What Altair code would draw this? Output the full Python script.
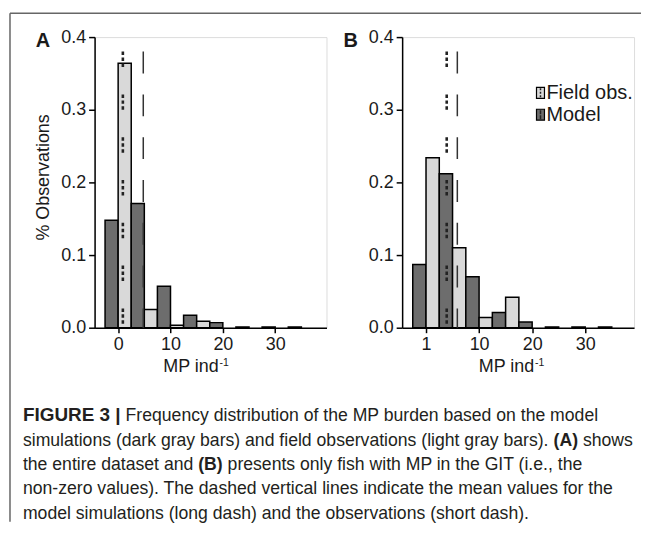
import altair as alt
import pandas as pd

# ---------------- data ----------------
bin_centers = [0, 5, 10, 15, 20, 25, 30, 35]
bin_width = 5
A_model = [0.148, 0.171, 0.057, 0.017, 0.007, 0.001, 0.001, 0.001]
A_field = [0.364, 0.025, 0.0035, 0.009, 0.0, 0.0, 0.0, 0.0]
B_model = [0.087, 0.212, 0.070, 0.021, 0.008, 0.001, 0.001, 0.001]
B_field = [0.234, 0.110, 0.014, 0.042, 0.0, 0.0, 0.0, 0.0]
A_means = {"Field obs.": 0.9, "Model": 4.8}
B_means = {"Field obs.": 3.9, "Model": 5.9}
y_ticks = [0, 0.1, 0.2, 0.3, 0.4]
x_ticks = [0, 10, 20, 30]
B_first_label = "1"
series_names = ["Model", "Field obs."]
# (text, bold, font size)
caption_lines = [
    [("FIGURE 3 |", True, 19), ("Frequency distribution of the MP burden based on the model", False, 17.7)],
    [("simulations (dark gray bars) and field observations (light gray bars).", False, 17.7), ("(A)", True, 17.7), ("shows", False, 17.7)],
    [("the entire dataset and", False, 17.7), ("(B)", True, 17.7), ("presents only fish with MP in the GIT (i.e., the", False, 17.7)],
    [("non-zero values). The dashed vertical lines indicate the mean values for the", False, 17.7)],
    [("model simulations (long dash) and the observations (short dash).", False, 17.7)],
]

DARK = "#6d6d6d"
LIGHT = "#d9d9d9"
FONT = "Liberation Sans"
TXT = "#1a1a1a"

REG = {c: w for c, w in zip("abcdefghijklmnopqrstuvwxyz",
       [556,556,500,556,556,278,556,556,222,222,500,222,833,556,556,556,556,333,500,278,556,500,722,500,500,500])}
REG.update({c: w for c, w in zip("ABCDEFGHIJKLMNOPQRSTUVWXYZ",
       [667,667,722,722,667,611,778,722,278,500,667,556,833,722,778,667,778,722,667,611,722,667,944,667,667,611])})
REG.update({" ": 278, "(": 333, ")": 333, ".": 278, ",": 278, "-": 333, "|": 260})
REG.update({d: 556 for d in "0123456789"})
BOLD = {"A": 722, "B": 722, "F": 611, "G": 778, "I": 278, "U": 722, "R": 722, "E": 667,
        "(": 333, ")": 333, " ": 278, "|": 280}
BOLD.update({d: 556 for d in "0123456789"})


def tw(s, size, bold=False):
    tab = BOLD if bold else REG
    return sum(tab.get(c, 556) for c in s) * size / 1000.0


def bars_df(model, field):
    rows = []
    for c, m, f in zip(bin_centers, model, field):
        if m > 0:
            rows.append({"x0": c - bin_width / 2, "x1": c, "v": m, "s": "Model"})
        if f > 0:
            rows.append({"x0": c, "x1": c + bin_width / 2, "v": f, "s": "Field obs."})
    return pd.DataFrame(rows)


one = pd.DataFrame({"k": [0]})


def txt(t, x, y, size=17, bold=False, align="left", baseline="alphabetic", angle=0, color=TXT, font=FONT):
    kw = dict(font=font, fontSize=size, align=align, baseline=baseline, color=color)
    if bold:
        kw["fontWeight"] = "bold"
    if angle:
        kw["angle"] = angle
    return alt.Chart(one).mark_text(**kw).encode(x=alt.value(x), y=alt.value(y), text=alt.value(t))


def panel(model, field, means, domain, letter, label_expr, extra, title_x):
    W, H = 233, 292
    xs = alt.Scale(domain=domain, nice=False, zero=False)
    ys = alt.Scale(domain=[0, 0.4], nice=False)
    xaxis = alt.Axis(values=x_ticks, title=None, labelExpr=label_expr, tickSize=5, labelPadding=3,
                     labelFontSize=18, labelFont=FONT, labelColor=TXT, domainColor="black",
                     tickColor="black", domainWidth=1.5, tickWidth=1.5, grid=False, labelFlush=False)
    yaxis = alt.Axis(values=y_ticks, title=None, format=".1f", tickSize=6, labelPadding=3,
                     labelFontSize=18, labelFont=FONT, labelColor=TXT, domainColor="black",
                     tickColor="black", domainWidth=1.5, tickWidth=1.5, grid=False)
    bars = alt.Chart(bars_df(model, field)).mark_bar(stroke="black", strokeWidth=1.5).encode(
        x=alt.X("x0:Q", scale=xs, axis=xaxis),
        x2="x1:Q",
        y=alt.Y("v:Q", scale=ys, axis=yaxis),
        y2=alt.datum(0),
        fill=alt.Fill("s:N", scale=alt.Scale(domain=series_names, range=[DARK, LIGHT]), legend=None),
    )
    mdf = pd.DataFrame({"s": list(means.keys()), "m": list(means.values())})
    field_rule = alt.Chart(mdf[mdf.s == "Field obs."]).mark_rule(
        color="#222", strokeWidth=2.6, strokeDash=[3.5, 2.5, 3.5, 2.5, 3.5, 27.5]).encode(
        x="m:Q", y=alt.datum(0.38), y2=alt.datum(0))
    model_rule = alt.Chart(mdf[mdf.s == "Model"]).mark_rule(
        color="#333", strokeWidth=1.5, strokeDash=[22, 21]).encode(
        x="m:Q", y=alt.datum(0.38), y2=alt.datum(0))
    layers = [bars, field_rule, model_rule,
              txt(letter, -59, 10, size=20, bold=True),
              txt("MP ind", title_x, 337, size=18, color=TXT)]
    sx = title_x + tw("MP ind", 18) + 0.5
    layers.append(txt("-1", sx, 330, size=10.5))
    layers += extra
    return alt.layer(*layers).properties(width=W, height=H)


# caption + frame + y title live in panel A (coordinates relative to its plot area)
extraA = [txt("% Observations", -51, 141, size=18, align="center", baseline="middle", angle=270)]
cap_x0 = -72
cap_y0 = 386
cap_lh = 24.5
for i, segs in enumerate(caption_lines):
    x = cap_x0
    for t, b, sz in segs:
        extraA.append(txt(t, x, cap_y0 + i * cap_lh, size=sz, bold=b, color="#231f20"))
        x += tw(t, sz, b) + tw(" ", 17.7)
extraA.append(alt.Chart(one).mark_rule(color="#666", strokeWidth=1.5).encode(
    x=alt.value(-85), x2=alt.value(549), y=alt.value(-24)))
extraA.append(alt.Chart(one).mark_rule(color="#666", strokeWidth=1.5).encode(
    x=alt.value(-85), y=alt.value(-24), y2=alt.value(487)))

# legend in panel B
extraB = []
for j, (name, fill) in enumerate([("Field obs.", LIGHT), ("Model", DARK)]):
    cy = 56 + j * 22
    extraB.append(alt.Chart(one).mark_rect(fill=fill, stroke="black", strokeWidth=1.2).encode(
        x=alt.value(135), x2=alt.value(143), y=alt.value(cy - 5.5), y2=alt.value(cy + 5.5)))
    extraB.append(alt.Chart(one).mark_rule(color="#222", strokeWidth=1.5,
                                           strokeDash=[2, 1.5] if j == 0 else [4, 1]).encode(
        x=alt.value(139), y=alt.value(cy - 4.5), y2=alt.value(cy + 4.5)))
    extraB.append(txt(name, 145, cy, size=20, baseline="middle"))

pA = panel(A_model, A_field, A_means, [-4.5, 39.8], "A", "datum.label", extraA, 69)
pB = panel(B_model, B_field, B_means, [-4.5, 39.2], "B",
           "datum.value == 0 ? '%s' : datum.label" % B_first_label, extraB, 77)

chart = alt.hconcat(pA, pB, spacing=76, bounds="flush").properties(
    padding={"left": 0, "top": 2, "right": 0, "bottom": 0}
).configure_view(strokeWidth=0).configure(background="white")

chart.save("out.html", embed_options={"renderer": "svg", "actions": False})
